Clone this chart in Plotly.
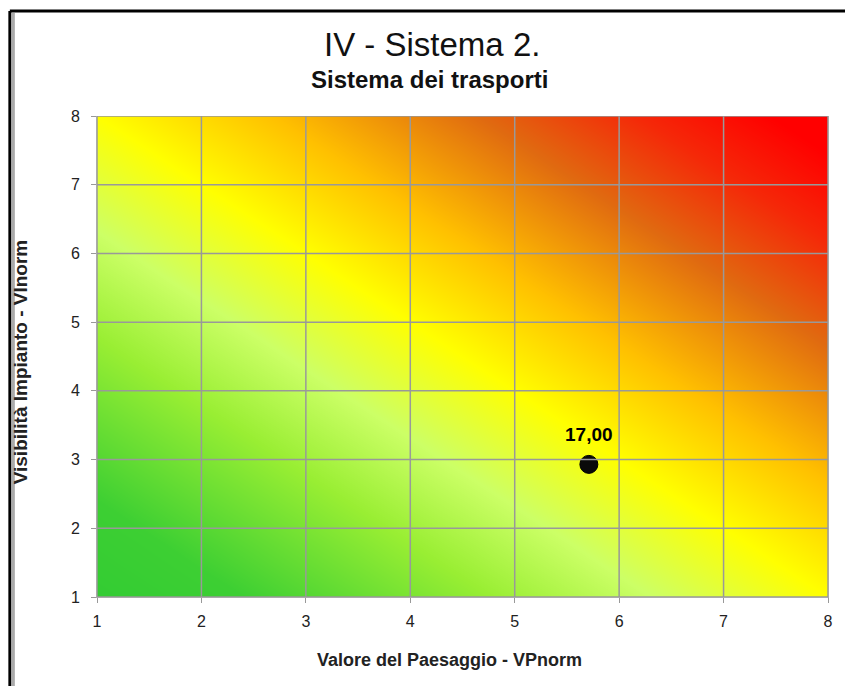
import numpy as np
import plotly.graph_objects as go

# Scheda di valutazione: Sistema dei trasporti
vp_norm = [5.71]          # Valore del Paesaggio - VPnorm
vi_norm = [2.93]          # Visibilità Impianto - VInorm
punteggio = [17.00]       # indice di impatto
tick_vals = [1, 2, 3, 4, 5, 6, 7, 8]

# Gradiente di sfondo (verde -> giallo -> rosso) lungo la diagonale
gradient_stops = [
    [0.00, "#33cc33"],
    [0.10, "#3dcf33"],
    [0.27, "#99ee33"],
    [0.38, "#ccff66"],
    [0.50, "#ffff00"],
    [0.62, "#ffc000"],
    [0.76, "#e06a10"],
    [0.87, "#f52808"],
    [0.96, "#ff0000"],
    [1.00, "#ff0000"],
]

W, H = 845, 686
L, R, T, B = 97, 831, 116, 597   # plot area in pixels


def px(x):
    return (x - L) / (R - L)


def py(y):
    return (B - y) / (B - T)


gx = np.linspace(0, 9, 37)
gy = np.linspace(0, 9, 37)
GX, GY = np.meshgrid(gx, gy)
Z = ((GX - 1) / 7 + (GY - 1) / 7) / 2

fig = go.Figure()
fig.add_trace(go.Heatmap(
    x=gx, y=gy, z=Z, zmin=0, zmax=1, zsmooth="best",
    colorscale=gradient_stops, showscale=False, hoverinfo="skip",
))

# griglia sopra lo sfondo sfumato
grid_shapes = []
for v in tick_vals:
    grid_shapes.append(dict(type="line", xref="x", yref="y", x0=v, x1=v, y0=tick_vals[0], y1=tick_vals[-1],
                            line=dict(color="#999999", width=1.5), layer="above"))
    grid_shapes.append(dict(type="line", xref="x", yref="y", y0=v, y1=v, x0=tick_vals[0], x1=tick_vals[-1],
                            line=dict(color="#999999", width=1.5), layer="above"))

fig.add_trace(go.Scatter(
    x=vp_norm, y=vi_norm, mode="markers",
    marker=dict(size=18, color="#0a0a0a", line=dict(color="#000000", width=1)),
    hoverinfo="skip", cliponaxis=False,
))

axis_common = dict(
    range=[1, 8], tickvals=tick_vals, showgrid=False,
    ticks="outside", ticklen=5, tickcolor="#999999", showline=True, linecolor="#aaaaaa",
    linewidth=1, zeroline=False, tickfont=dict(family="Liberation Sans", size=16, color="#222222"),
    layer="above traces",
)
fig.update_xaxes(**axis_common)
fig.update_yaxes(**axis_common)
fig.update_xaxes(ticklabelstandoff=5)
fig.update_yaxes(ticklabelstandoff=8, mirror=True)

ann = []
for xv, yv, s in zip(vp_norm, vi_norm, punteggio):
    ann.append(dict(text="<b>" + f"{s:.2f}".replace(".", ",") + "</b>", x=xv, y=yv, xref="x", yref="y",
                    showarrow=False, yshift=30, xanchor="center", yanchor="middle",
                    font=dict(family="Liberation Sans", size=19, color="#000000")))
ann.append(dict(text="IV - Sistema 2.", x=px(433), y=py(45), xref="paper", yref="paper",
                showarrow=False, xanchor="center", yanchor="middle",
                font=dict(family="Liberation Sans", size=33, color="#111111")))
ann.append(dict(text="<b>Sistema dei trasporti</b>", x=px(431), y=py(79), xref="paper", yref="paper",
                showarrow=False, xanchor="center", yanchor="middle",
                font=dict(family="Liberation Sans", size=24, color="#111111")))
ann.append(dict(text="<b>Valore del Paesaggio - VPnorm</b>", x=px(451), y=py(660), xref="paper", yref="paper",
                showarrow=False, xanchor="center", yanchor="middle",
                font=dict(family="Liberation Sans", size=18, color="#222222")))
ann.append(dict(text="<b>Visibilità Impianto - VInorm</b>", x=px(20), y=py(362), xref="paper", yref="paper",
                showarrow=False, xanchor="center", yanchor="middle", textangle=-90,
                font=dict(family="Liberation Sans", size=19, color="#222222")))

shapes = grid_shapes + [
    # cornice esterna
    dict(type="line", xref="paper", yref="paper", x0=px(9.5), x1=px(W + 5), y0=py(11), y1=py(11),
         line=dict(color="#000000", width=3)),
    dict(type="line", xref="paper", yref="paper", x0=px(9.5), x1=px(9.5), y0=py(11), y1=py(H + 5),
         line=dict(color="#000000", width=3)),
    dict(type="line", xref="paper", yref="paper", x0=px(13), x1=px(13), y0=py(13), y1=py(H + 5),
         line=dict(color="#aaaaaa", width=3)),
]

fig.update_layout(
    width=W, height=H, margin=dict(l=L, r=W - R, t=T, b=H - B),
    paper_bgcolor="#ffffff", plot_bgcolor="#ffffff", showlegend=False,
    annotations=ann, shapes=shapes,
)

fig.write_html("out.html")
